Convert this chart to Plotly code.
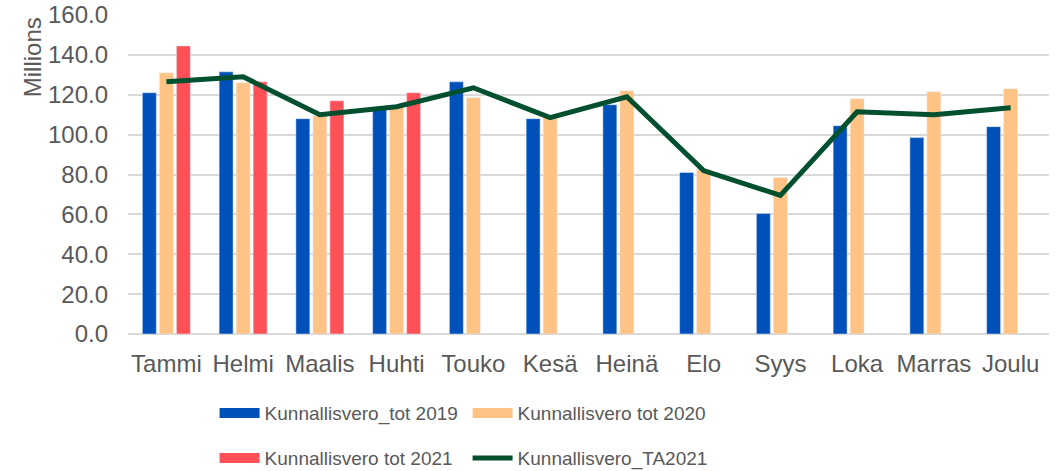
import plotly.graph_objects as go

months = ["Tammi", "Helmi", "Maalis", "Huhti", "Touko", "Kesä", "Heinä",
          "Elo", "Syys", "Loka", "Marras", "Joulu"]
tot_2019 = [121.0, 131.5, 108.0, 113.0, 126.5, 108.0, 115.0, 81.0, 60.5, 104.5, 98.5, 104.0]
tot_2020 = [131.0, 126.0, 109.5, 113.5, 118.5, 108.5, 122.0, 82.5, 78.5, 118.0, 121.5, 123.0]
tot_2021 = [144.5, 126.5, 117.0, 121.0, None, None, None, None, None, None, None, None]
ta_2021 = [126.5, 129.0, 110.0, 114.0, 123.5, 108.5, 119.0, 82.0, 69.5, 111.5, 110.0, 113.5]

FONT = "Liberation Sans, Arial, sans-serif"
GREY = "#595959"
BLUE, ORANGE, RED, GREEN = "#0050BA", "#FFC386", "#FF5157", "#004F2F"

fig = go.Figure()

bars = [
    (tot_2019, "Kunnallisvero_tot 2019", BLUE, "legend"),
    (tot_2020, "Kunnallisvero tot 2020", ORANGE, "legend"),
    (tot_2021, "Kunnallisvero tot 2021", RED, "legend2"),
]
for vals, name, color, leg in bars:
    fig.add_trace(go.Bar(x=months, y=vals, name=name, marker_color=color,
                         legendgroup=name, showlegend=False))
    # wide rectangular legend key, like the spreadsheet legend
    fig.add_trace(go.Scatter(x=[None], y=[None], mode="lines", name=name,
                             legendgroup=name, legend=leg,
                             line=dict(color=color, width=15)))

fig.add_trace(go.Scatter(x=months, y=ta_2021, name="Kunnallisvero_TA2021",
                         mode="lines", line=dict(color=GREEN, width=5),
                         legend="legend2"))

legend_common = dict(orientation="h", xanchor="left", yanchor="middle",
                     entrywidth=198, entrywidthmode="pixels",
                     font=dict(family=FONT, size=19, color=GREY),
                     bgcolor="rgba(0,0,0,0)", itemwidth=40)

fig.update_layout(
    width=1063, height=471,
    margin=dict(l=128, r=14, t=15, b=137, autoexpand=False),
    plot_bgcolor="white", paper_bgcolor="white",
    barmode="group", bargap=0.335, bargroupgap=0.18,
    font=dict(family=FONT, size=24, color=GREY),
    legend=dict(x=0.094, y=-0.248, **legend_common),
    legend2=dict(x=0.094, y=-0.389, **legend_common),
    xaxis=dict(showgrid=False, ticklabelstandoff=13,
               tickfont=dict(family=FONT, size=24, color=GREY),
               showline=False),
    yaxis=dict(range=[0, 160], dtick=20, tickformat=".1f",
               gridcolor="#D9D9D9", gridwidth=1.5, zeroline=True,
               zerolinecolor="#D9D9D9", zerolinewidth=1.5,
               ticklabelstandoff=19,
               tickfont=dict(family=FONT, size=24, color=GREY)),
    annotations=[dict(text="Millions", textangle=-90, showarrow=False,
                      xref="paper", yref="paper", x=-0.104, y=1,
                      xanchor="center", yanchor="top", yshift=0,
                      font=dict(family=FONT, size=24, color=GREY))],
)

fig.write_html("out.html", config={"displayModeBar": False},
               post_script="document.body.style.margin='0';")
